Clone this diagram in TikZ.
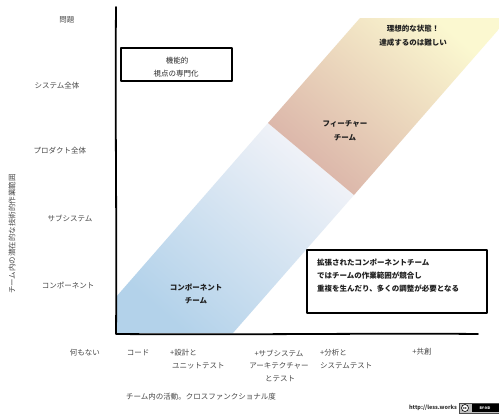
\documentclass[tikz,border=0pt]{standalone}
\usepackage{fontspec}
\setmainfont{Noto Sans CJK JP}
\definecolor{blueA}{HTML}{B3D2EA}
\definecolor{blueB}{HTML}{F2F3F8}
\definecolor{pinkA}{HTML}{DAB3A8}
\definecolor{pinkM}{HTML}{EBD3BD}
\definecolor{yelB}{HTML}{FBF8D0}
\begin{document}
\begin{tikzpicture}[x=1pt,y=-1pt,
  lab/.style={font=\fontsize{7.5}{9}\selectfont, text=black!72, inner sep=0pt},
  boldlab/.style={font=\fontsize{7.5}{9}\selectfont\bfseries, text=black!88, inner sep=0pt},
  axisline/.style={line width=1.8pt, line cap=round, line join=round},
  sketch/.style={line width=1.2pt, line join=round, draw=black}]
\useasboundingbox (0,0) rectangle (499,416);
\fill[white] (0,0) rectangle (499,416);

% diagonal band
\shade[bottom color=blueA, top color=blueB, shading angle=-41]
  (116,297) -- (268,123) -- (354,195) -- (233,333) -- (116,333) -- cycle;
\shade[bottom color=pinkA, middle color=pinkM, top color=yelB, shading angle=-41]
  (268,123) -- (360,18) -- (499,18) -- (499,29) -- (354,195) -- cycle;

% axes
\coordinate (ytop) at (116,7);
\coordinate (origin) at (116,334);
\coordinate (xend) at (478,334);
\draw[axisline] (ytop) .. controls (115,120) and (117,230) .. (origin)
  .. controls (250,335) and (380,333) .. (xend);

% y labels
\node[lab] (y5) at (67,20) {問題};
\node[lab] (y4) at (57,86) {システム全体};
\node[lab] (y3) at (60,151) {プロダクト全体};
\node[lab] (y2) at (70,218) {サブシステム};
\node[lab] (y1) at (68,285) {コンポーネント};
\node[lab, rotate=90] (ytitle) at (12,234) {チーム内の潜在的な技術的作業範囲};

% x labels
\node[lab] (x0) at (85,353) {何もない};
\node[lab] (x1) at (138,353) {コード};
\node[lab, anchor=west] (x2a) at (170,353) {+設計と};
\node[lab, anchor=west] (x2b) at (172,366) {ユニットテスト};
\node[lab] (x3a) at (279,353) {+サブシステム};
\node[lab] (x3b) at (279,366) {アーキテクチャー};
\node[lab] (x3c) at (280,379) {とテスト};
\node[lab, anchor=west] (x4a) at (320,353) {+分析と};
\node[lab, anchor=west] (x4b) at (320,366) {システムテスト};
\node[lab] (x5) at (422,352) {+共創};
\node[lab] (xtitle) at (201,397) {チーム内の活動。クロスファンクショナル度};

% box 1
\node[sketch, minimum width=111pt, minimum height=33pt, inner sep=0pt] (box1) at (176.5,64.5) {};
\node[lab, text=black!85] (b1a) at (177,61) {機能的};
\node[lab, text=black!85] (b1b) at (176,74) {視点の専門化};

% band labels
\node[boldlab] (ideal1) at (413,29) {理想的な状態！};
\node[boldlab] (ideal2) at (413,43) {達成するのは難しい};
\node[boldlab] (ft1) at (345,124) {フィーチャー};
\node[boldlab] (ft2) at (345,138) {チーム};
\node[boldlab] (ct1) at (196,287) {コンポーネント};
\node[boldlab] (ct2) at (196,301) {チーム};

% box 2
\node[sketch, fill=white, minimum width=180pt, minimum height=63pt, inner sep=0pt] (box2) at (397,281.5) {};
\node[boldlab, anchor=west] (b2a) at (317,263) {拡張されたコンポーネントチーム};
\node[boldlab, anchor=west] (b2b) at (317,276) {ではチームの作業範囲が競合し};
\node[boldlab, anchor=west] (b2c) at (317,289) {重複を生んだり、多くの調整が必要となる};

% footer
\node[font=\fontsize{5.5}{6}\selectfont\bfseries, text=black!80, inner sep=0pt] (url) at (433,408) {http://less.works};
\node[fill=black!25, draw=black!70, line width=0.4pt, minimum width=40pt, minimum height=10pt, inner sep=0pt] (cc) at (479,408) {};
\node[fill=black, minimum width=27pt, minimum height=7.5pt, inner sep=0pt, text=white, font=\fontsize{3.5}{4}\selectfont\bfseries] (ccby) at (485,408) {BY-ND};
\node[circle, draw=black, fill=white, line width=0.6pt, minimum size=7pt, inner sep=0pt, font=\fontsize{3.5}{4}\selectfont\bfseries] (cclogo) at (465,408) {cc};
\end{tikzpicture}
\end{document}
